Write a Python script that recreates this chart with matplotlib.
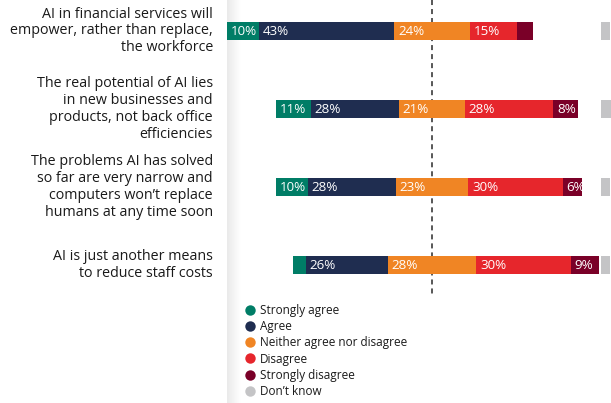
import numpy as np
import matplotlib.pyplot as plt
from matplotlib.lines import Line2D

plt.rcParams['font.family'] = ['Open Sans', 'DejaVu Sans']

statements = [
    "AI in financial services will\nempower, rather than replace,\nthe workforce",
    "The real potential of AI lies\nin new businesses and\nproducts, not back office\nefficiencies",
    "The problems AI has solved\nso far are very narrow and\ncomputers won’t replace\nhumans at any time soon",
    "AI is just another means\nto reduce staff costs",
]
categories = ["Strongly agree", "Agree", "Neither agree nor disagree",
              "Disagree", "Strongly disagree", "Don’t know"]

strongly_agree = [10, 11, 10, 4]
agree = [43, 28, 28, 26]
neutral = [24, 21, 23, 28]
disagree = [15, 28, 30, 30]
strongly_disagree = [5, 8, 6, 9]
dont_know = [3, 4, 3, 3]

colors = ["#007d66", "#1f2d50", "#f08524", "#e6262c", "#7a0028", "#c4c4c6"]

W, H = 611, 403
px_per_pct = 3.15
center_px = 432
row0_px, row_step = 31, 78

fig = plt.figure(figsize=(W / 100, H / 100), dpi=100)

# soft shadow on the left edge of the chart panel
sh = fig.add_axes([227 / W, 0, 14 / W, 1], zorder=0)
grad = np.linspace(0.915, 1.0, 64)[None, :]
sh.imshow(grad, cmap='gray', vmin=0, vmax=1, aspect='auto')
sh.axis('off')

ax = fig.add_axes([0, 0, 1, 1], zorder=1)
ax.patch.set_alpha(0)
ax.set_xlim(-center_px / px_per_pct, (W - center_px) / px_per_pct)
ax.set_ylim((H - row0_px) / row_step, -row0_px / row_step)
ax.axis('off')

# dashed reference line through the middle of the neutral block
y_end = (297 - row0_px) / row_step
ln, = ax.plot([0, 0], [ax.get_ylim()[1], y_end], color='#2a2a2a', lw=1.1, zorder=1)
ln.set_dashes([3.3, 2.6])

series = [strongly_agree, agree, neutral, disagree, strongly_disagree]
bar_h = 18 / row_step
for i in range(len(statements)):
    vals = [s[i] for s in series]
    left = -(vals[0] + vals[1] + vals[2] / 2)
    for v, c in zip(vals, colors):
        ax.barh(i, v, left=left, height=bar_h, color=c, zorder=2)
        if v >= 6:
            ax.text(left + 1.2, i + 0.005, f"{v}%", color='white', fontsize=9.6,
                    ha='left', va='center', zorder=3)
        left += v
    ax.barh(i, dont_know[i], left=53.5, height=bar_h, color=colors[5], zorder=2)
    ax.text((213 - center_px) / px_per_pct, i, statements[i], ha='right', va='center',
            fontsize=10.3, color='#1a1a1a', linespacing=1.18)

handles = [Line2D([], [], marker='o', linestyle='', markersize=7.5, color=c,
                  markeredgewidth=0) for c in colors]
fig.legend(handles, categories, loc='upper left',
           bbox_to_anchor=(245 / W, 1 - 304 / H), frameon=False, fontsize=8.5,
           labelspacing=0.27, handlelength=0.8, handletextpad=0.45, borderpad=0,
           borderaxespad=0, labelcolor='#1a1a1a')

fig.savefig('out.png', dpi=100)
